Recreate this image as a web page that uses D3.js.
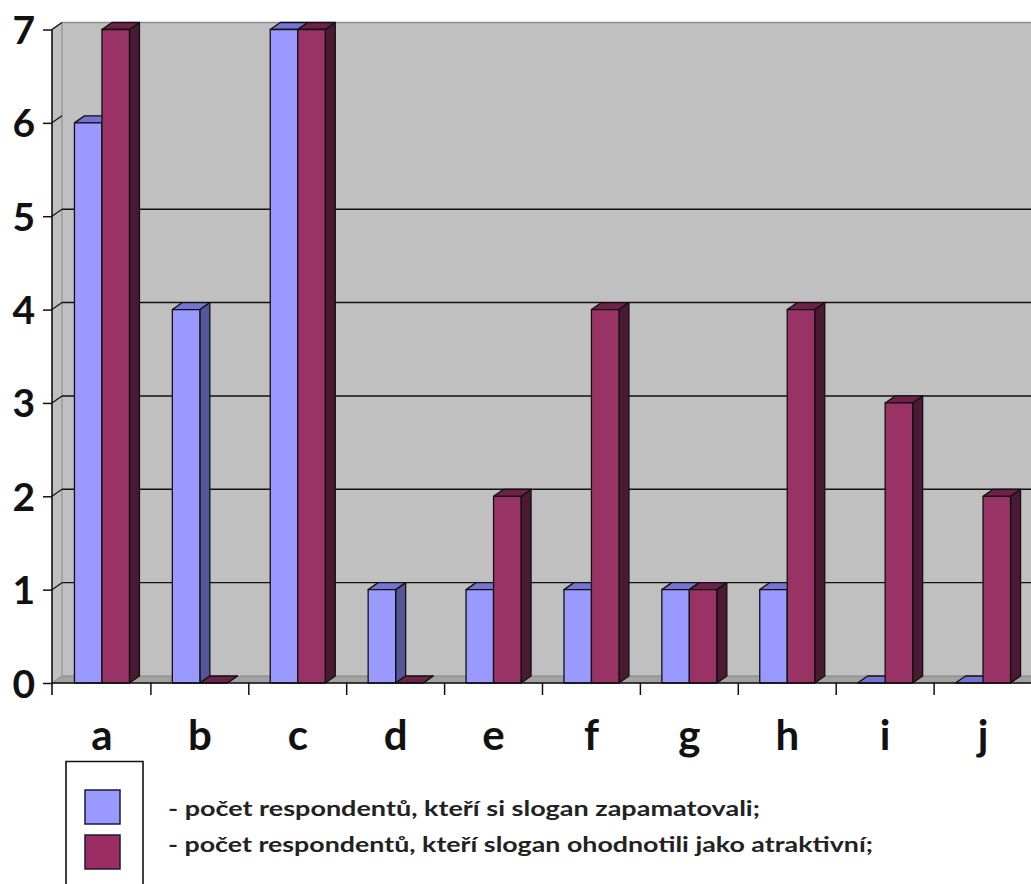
<!DOCTYPE html>
<html>
<head>
<meta charset="utf-8">
<script src="https://cdn.jsdelivr.net/npm/d3@7/dist/d3.min.js"></script>
<style>
  html, body { margin: 0; padding: 0; background: #ffffff; }
  svg { display: block; }
</style>
</head>
<body>
<svg id="chart" width="1031" height="884"></svg>
<script>
// Chart data
const categories = ["a", "b", "c", "d", "e", "f", "g", "h", "i", "j"];
const remembered = [6, 4, 7, 1, 1, 1, 1, 1, 0, 0];   // zapamatovali
const attractive = [7, 0, 7, 0, 2, 4, 1, 4, 3, 2];   // atraktivní
const yTicks = [0, 1, 2, 3, 4, 5, 6, 7];
const gridValues = [1, 2, 3, 4, 5];
const legendLabels = [
  "- počet respondentů, kteří si slogan zapamatovali;",
  "- počet respondentů, kteří slogan ohodnotili jako atraktivní;"
];

const FONT = "Lato, 'Open Sans', 'DejaVu Sans', sans-serif";
const DX = 10, DY = 7;          // 3D depth offset
const AX = 52;                  // front y-axis position
const RIGHT = 1040;

const svg = d3.select("#chart");
const y = d3.scaleLinear().domain([0, 7]).range([683, 29.5]);
const x = d3.scaleBand().domain(categories).range([53, 1032]);
const barW = 27.5;

const series = [
  { values: remembered, front: "#9999ff", top: "#7474d2", side: "#55559a", offset: -barW },
  { values: attractive, front: "#993366", top: "#6e2149", side: "#4a1a33", offset: 0 }
];

const base = y(0);

// Side wall (left), back wall and floor
svg.append("polygon")
  .attr("points", [[AX, y(7)], [AX + DX, y(7) - DY], [AX + DX, base - DY], [AX, base]].join(" "))
  .attr("fill", "#c0c0c0");
svg.append("rect")
  .attr("x", AX + DX).attr("y", y(7) - DY)
  .attr("width", RIGHT - AX - DX).attr("height", base - y(7))
  .attr("fill", "#c0c0c0");
svg.append("line")
  .attr("x1", AX + DX).attr("x2", RIGHT)
  .attr("y1", y(7) - DY).attr("y2", y(7) - DY)
  .attr("stroke", "#8e8e8e").attr("stroke-width", 1.5);
svg.append("line")
  .attr("x1", AX).attr("y1", y(7)).attr("x2", AX + DX).attr("y2", y(7) - DY)
  .attr("stroke", "#8e8e8e").attr("stroke-width", 1.2);
svg.append("line")
  .attr("x1", AX + DX).attr("x2", AX + DX)
  .attr("y1", y(7) - DY).attr("y2", base - DY)
  .attr("stroke", "#909090").attr("stroke-width", 1.2);
svg.append("polygon")
  .attr("points", [[AX, base], [AX + DX, base - DY], [RIGHT, base - DY], [RIGHT, base]].join(" "))
  .attr("fill", "#a2a2a2")
  .attr("stroke", "#7a7a7a").attr("stroke-width", 0.8);

// Gridlines on the back wall
svg.append("g").selectAll("line")
  .data(gridValues)
  .join("line")
  .attr("x1", AX + DX).attr("x2", RIGHT)
  .attr("y1", d => y(d) - DY).attr("y2", d => y(d) - DY)
  .attr("stroke", "#111").attr("stroke-width", 1.4);

// Connectors from the axis ticks onto the back wall
svg.append("g").selectAll("line")
  .data(yTicks.filter(d => d > 0))
  .join("line")
  .attr("x1", AX).attr("y1", d => y(d))
  .attr("x2", AX + DX).attr("y2", d => y(d) - DY)
  .attr("stroke", "#111").attr("stroke-width", 1.2);

// 3D bars
const bars = svg.append("g").attr("stroke", "#111").attr("stroke-width", 1.3).attr("stroke-linejoin", "round");
categories.forEach((c, i) => {
  const cx = x(c) + x.bandwidth() / 2;
  series.forEach(s => {
    const v = s.values[i];
    const xl = cx + s.offset;
    const yt = y(v);
    const g = bars.append("g");
    g.append("polygon")
      .attr("points", [[xl + barW, yt], [xl + barW + DX, yt - DY], [xl + barW + DX, base - DY], [xl + barW, base]].join(" "))
      .attr("fill", s.side);
    g.append("polygon")
      .attr("points", [[xl, yt], [xl + DX, yt - DY], [xl + barW + DX, yt - DY], [xl + barW, yt]].join(" "))
      .attr("fill", s.top);
    if (v > 0) {
      g.append("rect")
        .attr("x", xl).attr("y", yt)
        .attr("width", barW).attr("height", base - yt)
        .attr("fill", s.front);
    }
  });
});

// Y axis
const yAxis = svg.append("g")
  .attr("transform", `translate(${AX},0)`)
  .call(d3.axisLeft(y).tickValues(yTicks).tickSize(9).tickSizeOuter(0).tickPadding(8).tickFormat(d3.format("d")));
yAxis.select(".domain").remove();
yAxis.selectAll(".tick line").attr("stroke", "#111").attr("stroke-width", 1.5);
yAxis.selectAll(".tick text")
  .attr("font-family", FONT).attr("font-weight", 700).attr("font-size", 39)
  .attr("fill", "#111").attr("dy", "0.36em");
svg.append("line")
  .attr("x1", AX).attr("x2", AX).attr("y1", y(7)).attr("y2", base + 12)
  .attr("stroke", "#111").attr("stroke-width", 1.6);

// X axis
const xAxis = svg.append("g")
  .attr("transform", `translate(0,${base})`)
  .call(d3.axisBottom(x).tickSize(0).tickPadding(0));
xAxis.select(".domain").remove();
xAxis.selectAll(".tick text")
  .attr("font-family", FONT).attr("font-weight", 700).attr("font-size", 42)
  .attr("fill", "#111").attr("y", 67).attr("dy", 0);
svg.append("line")
  .attr("x1", AX).attr("x2", RIGHT).attr("y1", base).attr("y2", base)
  .attr("stroke", "#111").attr("stroke-width", 1.6);
svg.append("g").selectAll("line")
  .data(categories.slice(1).concat(["__end"]))
  .join("line")
  .attr("x1", d => d === "__end" ? x.range()[1] : x(d))
  .attr("x2", d => d === "__end" ? x.range()[1] : x(d))
  .attr("y1", base).attr("y2", base + 12)
  .attr("stroke", "#111").attr("stroke-width", 1.5);

// Legend
svg.append("path")
  .attr("d", "M66,884 V761.5 H143 V884")
  .attr("fill", "none").attr("stroke", "#111").attr("stroke-width", 1.6);
const legendY = [790, 835];
const legendTextY = [816, 852];
const legendWidths = [592, 705];
series.forEach((s, i) => {
  svg.append("rect")
    .attr("x", 85).attr("y", legendY[i])
    .attr("width", 35).attr("height", 34)
    .attr("fill", i === 0 ? s.front : "#9c2d62")
    .attr("stroke", "#1a1a3a").attr("stroke-width", 1.5);
  svg.append("text")
    .attr("x", 168).attr("y", legendTextY[i])
    .attr("font-family", FONT).attr("font-weight", 700).attr("font-size", 21)
    .attr("fill", "#222")
    .attr("textLength", legendWidths[i]).attr("lengthAdjust", "spacingAndGlyphs")
    .text(legendLabels[i]);
});
</script>
</body>
</html>
